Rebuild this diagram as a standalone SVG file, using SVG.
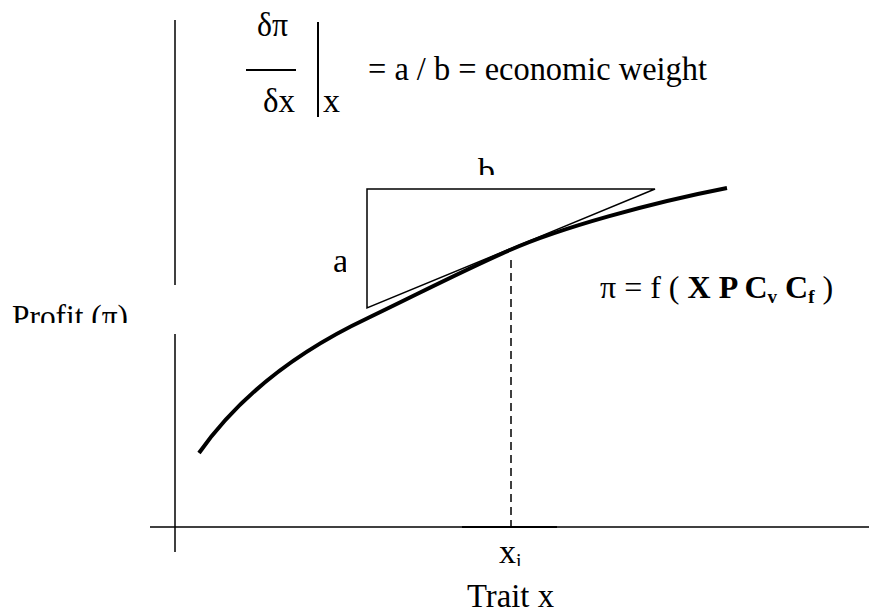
<svg xmlns="http://www.w3.org/2000/svg" width="869" height="614" viewBox="0 0 869 614">
<style>
.t{font-family:"Liberation Serif","Times New Roman",serif;font-size:34px;fill:#000}
.b{font-weight:bold}
.ln{stroke:#000;stroke-width:1.5;fill:none}
</style>
<defs>
<clipPath id="clipB"><rect x="400" y="140" width="200" height="35"/></clipPath>
<clipPath id="clipA"><rect x="320" y="240" width="26" height="50"/></clipPath>
<clipPath id="clipP"><rect x="0" y="280" width="160" height="43"/></clipPath>
<clipPath id="clipX"><rect x="480" y="530" width="60" height="36"/></clipPath>
</defs>
<rect width="869" height="614" fill="#fff"/>
<g id="axes">
<line class="ln" x1="175" y1="20" x2="175" y2="285"/>
<line class="ln" x1="175" y1="334" x2="175" y2="552"/>
<line class="ln" x1="150" y1="527" x2="869" y2="527"/>
<line x1="462" y1="527" x2="557" y2="527" stroke="#000" stroke-width="2"/>
</g>
<g id="derivative">
<text class="t" x="257" y="36" textLength="31" lengthAdjust="spacingAndGlyphs">δπ</text>
<line x1="246" y1="70" x2="296" y2="70" stroke="#000" stroke-width="2"/>
<text class="t" x="263" y="112" textLength="32" lengthAdjust="spacingAndGlyphs">δx</text>
<line x1="318" y1="22" x2="318" y2="117" stroke="#000" stroke-width="2"/>
<text class="t" x="323" y="112">x</text>
<text class="t" x="368" y="80" textLength="339" lengthAdjust="spacingAndGlyphs">= a / b = economic weight</text>
</g>
<g id="triangle">
<polygon class="ln" points="367,189 655,189 367,308"/>
<text class="t" x="478" y="182" clip-path="url(#clipB)">b</text>
<text class="t" x="333" y="272" clip-path="url(#clipA)">a</text>
</g>
<g id="curve">
<path d="M199,453 C240,395 300,350 368,318 C420,293 460,272 510,250 C560,228 650,203 727,188" fill="none" stroke="#000" stroke-width="4" stroke-linecap="butt"/>
<line x1="511" y1="260" x2="511" y2="527" stroke="#000" stroke-width="1.5" stroke-dasharray="8,5"/>
</g>
<g id="function">
<text class="t" x="600" y="298" style="font-size:32px">π = f ( <tspan class="b">X P C</tspan><tspan class="b" font-size="19" dy="5">v</tspan><tspan class="b" dy="-5"> C</tspan><tspan class="b" font-size="19" dy="5">f</tspan><tspan dy="-5"> )</tspan></text>
</g>
<g id="labels">
<text class="t" x="12" y="328" clip-path="url(#clipP)" textLength="116" lengthAdjust="spacingAndGlyphs">Profit (π)</text>
<text class="t" x="499" y="563" clip-path="url(#clipX)">x<tspan font-size="20" dy="5">i</tspan></text>
<text class="t" x="467" y="607" textLength="87" lengthAdjust="spacingAndGlyphs">Trait x</text>
</g>
</svg>
